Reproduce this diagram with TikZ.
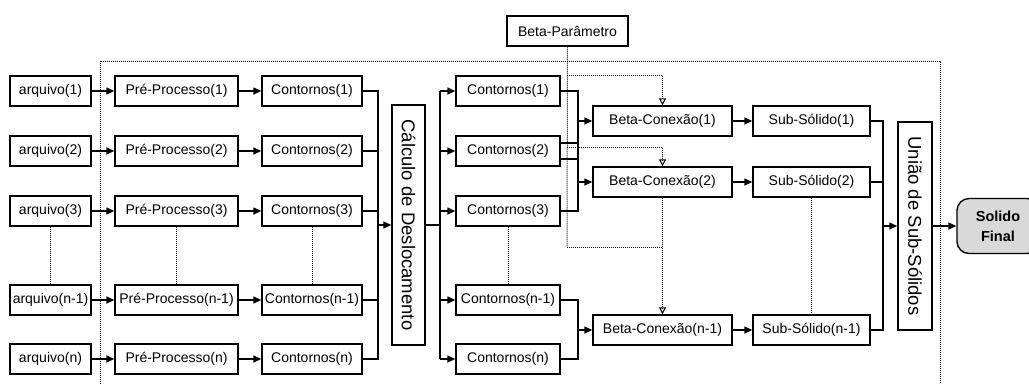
\documentclass[tikz,border=0pt]{standalone}
\usepackage{fontspec}
\setmainfont{Liberation Sans}
\usepackage{graphicx}
\usetikzlibrary{arrows.meta}
\begin{document}
\begin{tikzpicture}[x=1pt,y=-1pt,
  box/.style={draw, line width=1.4pt, minimum height=30pt, inner sep=0pt, font=\fontsize{14}{15}\selectfont, fill=white},
  vbox/.style={draw, line width=1.4pt, inner sep=0pt, font=\fontsize{18.5}{20}\selectfont, fill=white},
  conn/.style={line width=1.4pt},
  arr/.style={conn, -{Triangle[length=8pt,width=7pt]}},
  dotl/.style={densely dotted, line width=1pt},
  darr/.style={dotl, -{Triangle[open,length=7pt,width=7pt]}},
  final/.style={draw, line width=1.4pt, fill=gray!30, rounded corners=12pt, inner sep=0pt, align=center, font=\fontsize{14.5}{20}\selectfont\bfseries},
]
\useasboundingbox (0,0) rectangle (1029,384);

% dotted frame
\draw[dotl] (100,384) -- (100,61) -- (940,61) -- (940,384);

\foreach \i/\y/\t in {1/91/1, 2/151/2, 3/211/3, 4/300/n-1, 5/359/n}{
  \node[box, minimum width=81pt] (a\i) at (50.5,\y) {arquivo(\t)};
  \node[box, minimum width=123pt] (p\i) at (176.5,\y) {Pré-Processo(\t)};
  \node[box, minimum width=100pt] (c\i) at (312,\y) {Contornos(\t)};
  \node[box, minimum width=104pt] (m\i) at (508,\y) {Contornos(\t)};
  \draw[arr] (a\i) -- (p\i);
  \draw[arr] (p\i) -- (c\i);
}

\node[vbox, minimum width=33pt, minimum height=240pt] (calc) at (408.5,225) {\rotatebox{-90}{Cálculo de Deslocamento}};
\node[box, minimum width=121pt] (bp) at (567.5,31) {Beta-Parâmetro};

\foreach \i/\y/\t in {1/121/1, 2/182/2, 3/330/n-1}{
  \node[box, minimum width=139pt] (b\i) at (662.5,\y) {Beta-Conexão(\t)};
  \node[box, minimum width=117pt] (s\i) at (811.5,\y) {Sub-Sólido(\t)};
  \draw[arr] (b\i) -- (s\i);
}

\node[vbox, minimum width=34pt, minimum height=208pt] (uni) at (915,226) {\rotatebox{-90}{União de Sub-Sólidos}};
\node[final, minimum width=82pt, minimum height=55pt] (sf) at (998,226) {Solido\\Final};

% bus 1
\coordinate (bx1) at (378,0);
\draw[conn] (c1.east) -- (c1.east -| bx1) -- (c5.east -| bx1) -- (c5.east);
\foreach \i in {2,3,4}{ \draw[conn] (c\i.east) -- (c\i.east -| bx1); }
\draw[arr] (calc.west -| bx1) -- (calc.west);

% bus 2
\coordinate (bx2) at (440,0);
\draw[conn] (calc.east) -- (calc.east -| bx2);
\draw[conn] (m1.west -| bx2) -- (m5.west -| bx2);
\foreach \i in {1,...,5}{ \draw[arr] (m\i.west -| bx2) -- (m\i.west); }

% pairing to Beta-Conexao
\coordinate (bx3) at (578,0);
\draw[conn] (m1.east) -- (m1.east -| bx3) -- (b1.west -| bx3);
\draw[conn] ([yshift=-8pt]m2.east) -- ([yshift=-8pt]m2.east -| bx3) -- (b1.west -| bx3);
\draw[arr] (b1.west -| bx3) -- (b1.west);
\draw[conn] ([yshift=8pt]m2.east) -- ([yshift=8pt]m2.east -| bx3) -- (b2.west -| bx3);
\draw[conn] (m3.east) -- (m3.east -| bx3) -- (b2.west -| bx3);
\draw[arr] (b2.west -| bx3) -- (b2.west);
\draw[conn] (m4.east) -- (m4.east -| bx3) -- (b3.west -| bx3);
\draw[conn] (m5.east) -- (m5.east -| bx3) -- (b3.west -| bx3);
\draw[arr] (b3.west -| bx3) -- (b3.west);

% bus 3
\coordinate (bx4) at (883,0);
\draw[conn] (s1.east) -- (s1.east -| bx4) -- (s3.east -| bx4) -- (s3.east);
\draw[conn] (s2.east) -- (s2.east -| bx4);
\draw[arr] (uni.west -| bx4) -- (uni.west);
\draw[arr] (uni.east) -- (sf.west);

% beta parameter dotted lines
\coordinate (pk1) at (567,75);
\coordinate (pk2) at (567,147);
\coordinate (pk3) at (567,247);
\draw[dotl] (bp.south) -- (pk3);
\draw[darr] (pk1) -| (b1.north);
\draw[darr] (pk2) -| (b2.north);
\draw[darr] (pk3) -| (b3.north);

% ellipsis lines
\draw[dotl] (a3.south) -- (a4.north);
\draw[dotl] (p3.south) -- (p4.north);
\draw[dotl] (c3.south) -- (c4.north);
\draw[dotl] (m3.south) -- (m4.north);
\draw[dotl] (b2.south) -- (b2.south |- pk3);
\draw[dotl] (s2.south) -- (s3.north);
\end{tikzpicture}
\end{document}
